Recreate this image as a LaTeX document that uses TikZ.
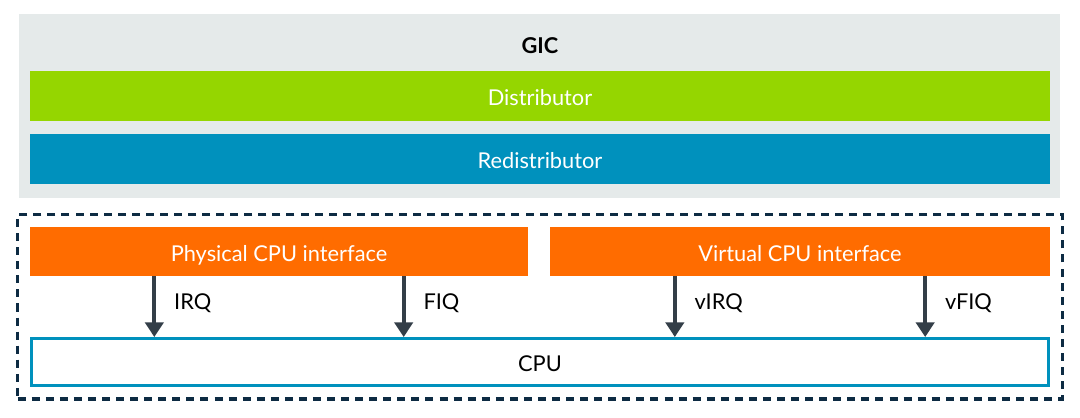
\documentclass[tikz,border=0pt]{standalone}
\usepackage{fontspec}
\setmainfont{Lato}
\usepackage{xcolor}
\usetikzlibrary{arrows.meta, positioning, fit, calc}
\definecolor{gicgrey}{RGB}{229, 234, 234}
\definecolor{armgreen}{RGB}{149, 214, 0}
\definecolor{armblue}{RGB}{0, 145, 189}
\definecolor{armorange}{RGB}{255, 108, 0}
\definecolor{navy}{RGB}{13, 43, 67}
\definecolor{slate}{RGB}{51, 62, 72}

\begin{document}
\begin{tikzpicture}[
        x=0.025cm, y=-0.025cm,
        every node/.style = {font=\fontsize{15.5}{18}\selectfont},
        bar/.style = {rectangle, minimum width=25.5cm, minimum height=1.25cm, text=white, inner sep=0pt, text height=13.5pt, text depth=0pt},
        iface/.style = {rectangle, fill=armorange, minimum height=1.225cm, text=white, inner sep=0pt, text height=13.5pt, text depth=0pt},
        sig/.style = {draw=slate, line width=2.8pt, -{Triangle[width=13pt, length=10.5pt]}}
    ]
        \useasboundingbox (0,0) rectangle (1080,417);

        % GIC block
        \node [fill=gicgrey, minimum width=26.025cm, minimum height=4.6cm, inner sep=0pt] (gic) at (539.5,106) {};
        \node [font=\fontsize{15.5}{18}\selectfont\bfseries] (title) at (540,46) {GIC};
        \node [bar, fill=armgreen] (dist) at (540,96) {Distributor};
        \node [bar, fill=armblue] (redist) at (540,159) {Redistributor};

        % CPU side
        \node [iface, minimum width=12.45cm] (phys) at (279,251.5) {Physical CPU interface};
        \node [iface, minimum width=12.5cm] (virt) at (800,251.5) {Virtual CPU interface};
        \node [rectangle, draw=armblue, line width=2.2pt, minimum width=25.42cm, minimum height=1.17cm, text height=13.5pt, text depth=0pt] (cpu) at (540,362) {CPU};
        \node [draw=navy, line width=2.2pt, dash pattern=on 5.7pt off 4.3pt, inner sep=0.3cm, fit=(phys) (virt) (cpu)] (frame) {};

        % Signals
        \foreach \src/\f/\lbl in {phys/0.25/IRQ, phys/0.75/FIQ, virt/0.25/vIRQ, virt/0.75/vFIQ}
            \draw [sig] ($(\src.south west)!\f!(\src.south east)$) coordinate (s) -- (s |- cpu.north)
                node [midway, right, xshift=0.33cm, yshift=0.08cm, text=black] {\lbl};
    \end{tikzpicture}
\end{document}
